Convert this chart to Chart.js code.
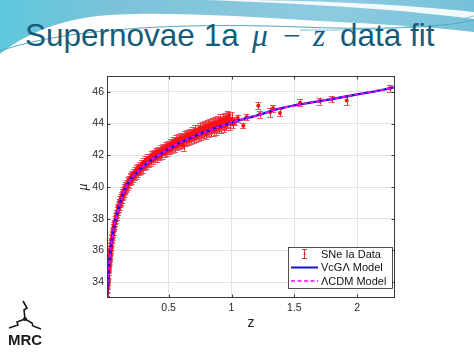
<!DOCTYPE html>
<html><head><meta charset="utf-8">
<script src="https://cdn.jsdelivr.net/npm/chart.js@4.4.1/dist/chart.umd.min.js"></script>
<style>
html,body{margin:0;padding:0;background:#fff;}
#slide{position:relative;width:474px;height:355px;overflow:hidden;background:#fff;}
#bg{position:absolute;left:0;top:0;}
.t{position:absolute;top:20px;font-size:31.5px;line-height:31.5px;color:#165c78;white-space:nowrap;}
.sans{font-family:"Liberation Sans",Arial,sans-serif;}
.ser{font-family:"Liberation Serif","DejaVu Serif",serif;font-style:italic;}
#wrap{position:absolute;left:0;top:0;width:474px;height:355px;}
#logo{position:absolute;left:8px;top:332px;font:bold 15px/15px "Liberation Sans",Arial,sans-serif;color:#1a1a1a;}
#sym{position:absolute;left:0;top:295px;}
</style></head>
<body>
<div id="slide">
<svg id="bg" width="474" height="60">
  <defs>
    <linearGradient id="g1" x1="0" y1="0" x2="1" y2="0">
      <stop offset="0" stop-color="#5ec8dd"/>
      <stop offset="0.25" stop-color="#7dc2d9"/>
      <stop offset="0.7" stop-color="#8ecbe0"/>
      <stop offset="1" stop-color="#76c1da"/>
    </linearGradient>
  </defs>
  <path d="M0,0 H474 V32 C430,27 380,24 320,21 C240,16 140,10 90,17 C45,24 18,40 0,54 Z" fill="url(#g1)"/>
  <path d="M205,0 C290,3 390,8 474,19 V12 C400,4 320,1 255,0 Z" fill="#ffffff" opacity="0.9"/>
  <path d="M0,51 C60,30 170,22 300,27 C380,30 440,28 474,20" stroke="#4fa9c2" fill="none" stroke-width="1"/>
  <path d="M300,30 C380,31 440,26 474,16" stroke="#7cc3d8" fill="none" stroke-width="1"/>
</svg>
<div class="t sans" style="left:25px">Supernovae 1a</div>
<div class="t ser" style="left:252px">μ</div>
<div class="t ser" style="left:283px;font-style:normal">−</div>
<div class="t ser" style="left:313px">z</div>
<div class="t sans" style="left:340px">data fit</div>
<div id="wrap"><canvas id="c" width="474" height="355"></canvas></div>
<svg id="sym" width="50" height="36">
  <circle cx="25" cy="24" r="2" fill="#1a1a1a"/>
  <polyline points="25,24 24,15 27,13 23,6" stroke="#1a1a1a" stroke-width="1.6" fill="none"/>
  <polyline points="25,24 17,27 18,30 9,33" stroke="#1a1a1a" stroke-width="1.6" fill="none"/>
  <polyline points="25,24 32,28 33,31 41,34" stroke="#1a1a1a" stroke-width="1.6" fill="none"/>
</svg>
<div id="logo">MRC</div>
</div>
<script>
// ---- data ----
const zData = [
0.010,0.011,0.012,0.013,0.014,0.015,0.016,0.017,0.018,0.019,0.020,0.021,0.022,0.023,0.024,0.025,0.026,0.027,0.028,0.029,
0.030,0.031,0.032,0.033,0.034,0.035,0.036,0.037,0.038,0.039,0.040,0.042,0.043,0.045,0.046,0.048,0.050,0.052,0.054,0.056,
0.058,0.060,0.062,0.064,0.066,0.068,0.070,0.072,0.075,0.078,0.080,0.083,0.086,0.089,0.092,0.095,0.098,0.100,
0.104,0.107,0.110,0.113,0.116,0.119,0.122,0.125,0.128,0.131,0.134,0.137,0.140,0.144,0.148,0.152,0.156,0.160,0.165,0.170,
0.175,0.180,0.185,0.190,0.195,0.200,0.206,0.212,0.218,0.224,0.230,0.236,0.242,0.248,0.254,0.260,0.267,0.274,0.281,0.288,
0.295,0.302,0.310,0.318,0.326,0.334,0.342,0.350,0.358,0.366,0.375,0.384,0.393,0.402,0.411,0.420,0.430,0.440,0.450,0.460,
0.470,0.480,0.490,0.500,
0.510,0.520,0.530,0.540,0.550,0.560,0.570,0.580,0.590,0.600,0.610,0.620,0.630,0.640,0.650,0.660,0.670,0.680,0.690,0.700,
0.710,0.720,0.730,0.740,0.750,0.760,0.770,0.780,0.790,0.800,0.810,0.820,0.830,0.840,0.850,0.860,0.870,0.880,0.890,0.900,
0.910,0.920,0.930,0.940,0.950,0.960,0.970,0.982,0.990,1.000,1.010,1.020,1.030,
1.050,1.093,1.120,1.213,1.226,1.306,1.330,1.385,1.545,1.700,1.797,1.916,2.260,
0.102,0.112,0.118,0.124,0.132,0.138,0.146,0.154,0.162,0.168,0.178,0.188,0.198,0.204,0.215,0.227,0.239,0.251,0.263,0.277,
0.291,0.305,0.314,0.322,0.338,0.346,0.362,0.370,0.380,0.397,0.407,0.416,0.425,0.435,0.445,0.455,0.465,0.475,0.485,0.495,
0.505,0.515,0.525,0.535,0.545,0.555,0.565,0.575,0.585,0.595,0.605,0.615,0.625,0.635,0.645,0.655,0.665,0.675,0.685,0.695,
0.705,0.715,0.725,0.735,0.745,0.755,0.765,0.775,0.785,0.795,0.805,0.815,0.825,0.835,0.845,0.855,0.865,0.875,0.885,0.895,
0.905,0.915,0.925,0.935,0.945,0.955,0.965,0.975];
const muData = [
33.15,33.35,33.50,33.55,33.80,33.75,34.05,34.00,34.25,34.30,34.45,34.40,34.65,34.60,34.85,34.80,35.05,34.95,35.15,35.30,
35.25,35.50,35.45,35.65,35.55,35.80,35.70,35.95,35.85,36.10,36.00,36.30,36.15,36.50,36.35,36.65,36.60,36.90,36.80,37.10,
37.00,37.30,37.15,37.50,37.35,37.65,37.50,37.80,37.70,38.00,37.90,38.20,38.05,38.40,38.25,38.55,38.40,38.70,
38.60,38.90,38.75,39.05,38.90,39.25,39.05,39.40,39.20,39.50,39.35,39.65,39.45,39.80,39.60,40.00,39.75,40.10,39.90,40.25,
40.00,40.40,40.15,40.50,40.30,40.65,40.40,40.80,40.55,40.90,40.65,41.05,40.75,41.15,40.85,41.25,40.95,41.35,41.05,41.45,
41.15,41.60,41.30,41.70,41.40,41.80,41.50,41.85,41.60,42.00,41.70,42.10,41.80,42.20,41.85,42.25,41.95,42.35,42.05,42.45,
42.15,42.55,42.25,42.65,
42.35,42.75,42.45,42.85,42.50,42.95,42.60,43.05,42.70,43.10,42.75,42.60,43.20,42.90,43.30,42.95,43.35,43.05,43.45,43.10,
43.55,43.15,43.60,43.25,43.70,43.30,43.75,43.40,43.80,43.35,43.90,43.50,43.95,43.55,44.00,43.60,44.05,43.65,44.10,43.75,
44.20,43.80,44.25,43.85,44.30,43.95,44.40,44.54,44.00,44.30,43.95,44.20,44.10,
44.35,43.87,44.40,45.13,44.60,44.71,44.96,44.67,45.32,45.42,45.53,45.45,46.22,
38.75,38.95,39.00,39.20,39.40,39.55,39.70,39.85,39.95,40.05,40.20,40.35,40.50,40.60,40.70,40.80,40.90,41.00,41.10,41.20,
41.30,41.40,41.45,41.55,41.60,41.70,41.75,41.85,41.90,42.00,42.05,42.10,42.10,42.20,42.20,42.30,42.30,42.40,42.40,42.45,
42.50,42.55,42.60,42.65,42.70,42.75,42.75,42.85,42.85,42.90,42.95,43.00,43.00,43.05,43.10,43.15,43.15,43.20,43.25,43.30,
43.30,43.35,43.40,43.40,43.45,43.50,43.50,43.55,43.60,43.60,43.65,43.70,43.70,43.75,43.80,43.80,43.85,43.85,43.90,43.95,
43.95,44.00,44.05,44.05,44.10,44.10,44.15,44.20];
const muErr = [
0.20,0.22,0.20,0.18,0.20,0.19,0.18,0.20,0.17,0.18,0.16,0.18,0.17,0.16,0.17,0.15,0.16,0.17,0.15,0.16,
0.15,0.16,0.15,0.16,0.15,0.15,0.16,0.15,0.14,0.15,0.15,0.14,0.15,0.14,0.15,0.14,0.15,0.14,0.15,0.14,
0.15,0.14,0.15,0.14,0.15,0.14,0.16,0.15,0.16,0.15,0.16,0.15,0.16,0.16,0.17,0.16,0.17,0.16,
0.18,0.17,0.18,0.17,0.19,0.18,0.18,0.19,0.18,0.19,0.18,0.20,0.19,0.19,0.20,0.19,0.20,0.20,0.19,0.20,
0.21,0.20,0.21,0.21,0.20,0.21,0.22,0.21,0.22,0.22,0.21,0.22,0.23,0.22,0.23,0.23,0.22,0.23,0.24,0.23,
0.24,0.24,0.23,0.25,0.24,0.25,0.24,0.25,0.26,0.25,0.25,0.26,0.25,0.26,0.26,0.27,0.26,0.27,0.26,0.27,
0.27,0.28,0.27,0.28,
0.28,0.29,0.28,0.29,0.29,0.30,0.29,0.30,0.30,0.31,0.30,0.31,0.31,0.30,0.31,0.31,0.32,0.31,0.32,0.32,
0.33,0.32,0.33,0.33,0.34,0.33,0.34,0.34,0.35,0.34,0.35,0.35,0.36,0.35,0.36,0.36,0.37,0.36,0.37,0.37,
0.38,0.37,0.38,0.38,0.39,0.38,0.39,0.20,0.39,0.40,0.25,0.22,0.20,
0.22,0.18,0.20,0.21,0.22,0.30,0.20,0.22,0.20,0.22,0.20,0.30,0.20,
0.20,0.19,0.20,0.21,0.19,0.21,0.20,0.21,0.22,0.21,0.22,0.23,0.22,0.24,0.23,0.24,0.25,0.24,0.25,0.26,
0.25,0.26,0.27,0.26,0.27,0.26,0.28,0.27,0.28,0.27,0.28,0.29,0.28,0.29,0.30,0.29,0.30,0.29,0.30,0.31,
0.30,0.31,0.30,0.31,0.32,0.31,0.32,0.31,0.32,0.33,0.32,0.33,0.32,0.33,0.34,0.33,0.34,0.33,0.34,0.35,
0.34,0.35,0.34,0.35,0.36,0.35,0.36,0.35,0.36,0.37,0.36,0.37,0.36,0.37,0.38,0.37,0.38,0.37,0.38,0.39,
0.38,0.39,0.38,0.39,0.40,0.39,0.40,0.39];

const modelZ  = [0.01,0.015,0.02,0.025,0.03,0.04,0.05,0.065,0.08,0.1,0.125,0.155,0.2,0.26,0.32,0.39,0.46,0.52,0.6,0.66,0.73,0.8,0.9,1.0,1.1,1.2,1.35,1.5,1.65,1.8,2.0,2.15,2.3];
const vcgMu   = [33.1,33.75,34.35,34.85,35.35,36.1,36.7,37.45,38.0,38.6,39.25,39.9,40.5,41.0,41.45,41.85,42.2,42.5,42.85,43.05,43.3,43.5,43.8,44.06,44.3,44.5,44.88,45.15,45.35,45.55,45.84,46.05,46.3];
const lcdmMu  = [33.1,33.75,34.35,34.85,35.35,36.1,36.7,37.45,38.0,38.6,39.25,39.9,40.5,41.0,41.45,41.85,42.2,42.5,42.85,43.05,43.3,43.5,43.8,44.06,44.3,44.5,44.88,45.15,45.35,45.55,45.84,46.05,46.3];

const xTicks = [0.5,1,1.5,2];
const xTickLabels = ['0.5','1','1.5','2'];
const yTicks = [34,36,38,40,42,44,46];
const yTickLabels = ['34','36','38','40','42','44','46'];
const legendLabels = ['SNe Ia Data','VcGΛ Model','ΛCDM Model'];
const xTitle = 'z';
const yTitle = 'μ';

// ---- rendering ----
const RED = '#ff1010';
const BLUE = '#1212d0';
const MAG = '#ff00ff';
const AX = '#3a3a3a';

const errorBars = {
  id:'errorBars',
  beforeDatasetsDraw(chart){
    const ctx = chart.ctx, xs = chart.scales.x, ys = chart.scales.y, a = chart.chartArea;
    ctx.save();
    ctx.beginPath(); ctx.rect(a.left,a.top,a.right-a.left,a.bottom-a.top); ctx.clip();
    ctx.lineWidth = 1;
    ctx.strokeStyle = 'rgba(245,20,30,0.95)';
    ctx.beginPath();
    for(let i=0;i<zData.length;i++){
      const px = Math.round(xs.getPixelForValue(zData[i]))+0.5;
      const y1 = ys.getPixelForValue(muData[i]+muErr[i]);
      const y2 = ys.getPixelForValue(muData[i]-muErr[i]);
      ctx.moveTo(px,y1); ctx.lineTo(px,y2);
    }
    ctx.stroke();
    ctx.strokeStyle = 'rgba(225,60,70,0.85)';
    ctx.beginPath();
    for(let i=0;i<zData.length;i++){
      const px = xs.getPixelForValue(zData[i]);
      const y1 = Math.round(ys.getPixelForValue(muData[i]+muErr[i]))+0.5;
      const y2 = Math.round(ys.getPixelForValue(muData[i]-muErr[i]))+0.5;
      ctx.moveTo(px-3,y1); ctx.lineTo(px+3,y1);
      ctx.moveTo(px-3,y2); ctx.lineTo(px+3,y2);
    }
    ctx.stroke();
    ctx.restore();
  }
};

const frame = {
  id:'frame',
  afterDraw(chart){
    const ctx = chart.ctx, xs = chart.scales.x, ys = chart.scales.y, a = chart.chartArea;
    ctx.save();
    ctx.strokeStyle = AX; ctx.lineWidth = 1;
    const L = Math.round(a.left)+0.5, R = Math.round(a.right)-0.5, T = Math.round(a.top)+0.5, B = Math.round(a.bottom)-0.5;
    ctx.strokeRect(L,T,R-L,B-T);
    ctx.beginPath();
    xTicks.forEach(v=>{ const p = Math.round(xs.getPixelForValue(v))+0.5; ctx.moveTo(p,B); ctx.lineTo(p,B-3); ctx.moveTo(p,T); ctx.lineTo(p,T+3); });
    yTicks.forEach(v=>{ const p = Math.round(ys.getPixelForValue(v))+0.5; ctx.moveTo(L,p); ctx.lineTo(L+3,p); ctx.moveTo(R,p); ctx.lineTo(R-3,p); });
    ctx.stroke();
    ctx.fillStyle = '#222';
    ctx.font = '14px "Liberation Sans", Arial, sans-serif';
    ctx.textAlign = 'center'; ctx.textBaseline = 'middle';
    ctx.fillText(xTitle, 251, 323);
    ctx.save();
    ctx.translate(83, 187); ctx.rotate(-Math.PI/2);
    ctx.font = 'italic 14px "Liberation Serif", serif';
    ctx.fillText(yTitle, 0, 0);
    ctx.restore();
    // legend
    const bx = 288.5, by = 247.5, bw = 104, bh = 41;
    ctx.fillStyle = '#fff'; ctx.fillRect(bx,by,bw,bh);
    ctx.strokeStyle = '#262626'; ctx.lineWidth = 0.8; ctx.strokeRect(bx,by,bw,bh);
    const rows = [254, 267.5, 281];
    ctx.lineWidth = 1; ctx.strokeStyle = 'rgba(200,40,50,0.9)';
    ctx.beginPath();
    ctx.moveTo(304.5, rows[0]-4.5); ctx.lineTo(304.5, rows[0]+4.5);
    ctx.moveTo(302, rows[0]-4.5); ctx.lineTo(307, rows[0]-4.5);
    ctx.moveTo(302, rows[0]+4.5); ctx.lineTo(307, rows[0]+4.5);
    ctx.stroke();
    ctx.fillStyle = RED; ctx.beginPath(); ctx.arc(304.5, rows[0], 1, 0, Math.PI*2); ctx.fill();
    ctx.strokeStyle = BLUE; ctx.lineWidth = 2;
    ctx.beginPath(); ctx.moveTo(291, rows[1]); ctx.lineTo(318, rows[1]); ctx.stroke();
    ctx.strokeStyle = MAG; ctx.lineWidth = 1.6; ctx.setLineDash([4,2.5]);
    ctx.beginPath(); ctx.moveTo(291, rows[2]); ctx.lineTo(318, rows[2]); ctx.stroke();
    ctx.setLineDash([]);
    ctx.fillStyle = '#111'; ctx.font = '11px "Liberation Sans", Arial, sans-serif';
    ctx.textAlign = 'left'; ctx.textBaseline = 'middle';
    legendLabels.forEach((t,i)=>ctx.fillText(t, 321, rows[i]+0.5));
    ctx.restore();
  }
};

const tickFont = {family:'"Liberation Sans", Arial, sans-serif', size:10.5};

new Chart(document.getElementById('c'), {
  type:'scatter',
  data:{
    datasets:[
      {label:legendLabels[2], data:modelZ.map((z,i)=>({x:z,y:lcdmMu[i]})), showLine:true, pointRadius:0,
       borderColor:MAG, borderWidth:1.8, borderDash:[4,2.5], fill:false, order:0, tension:0.3},
      {label:legendLabels[1], data:modelZ.map((z,i)=>({x:z,y:vcgMu[i]})), showLine:true, pointRadius:0,
       borderColor:BLUE, borderWidth:2.4, fill:false, order:1, tension:0.3},
      {label:legendLabels[0], data:zData.map((z,i)=>({x:z,y:muData[i]})), showLine:false,
       pointRadius:2, pointBackgroundColor:RED, pointBorderWidth:0, order:2}
    ]
  },
  options:{
    responsive:false, animation:false, devicePixelRatio:1,
    layout:{padding:{left:0,right:79,top:76,bottom:0}},
    plugins:{legend:{display:false}, tooltip:{enabled:false}},
    scales:{
      x:{type:'linear', min:0.01, max:2.3,
         afterBuildTicks(s){ s.ticks = xTicks.map(v=>({value:v})); },
         afterFit(s){ s.height = 57; },
         grid:{color:'#e2e2e2', drawTicks:false, lineWidth:1},
         border:{display:false},
         ticks:{padding:4, color:'#262626', font:tickFont, maxRotation:0,
                callback:(v,i)=>xTickLabels[i]}},
      y:{type:'linear', min:33, max:47,
         afterBuildTicks(s){ s.ticks = yTicks.map(v=>({value:v})); },
         afterFit(s){ s.width = 107; },
         grid:{color:'#e2e2e2', drawTicks:false, lineWidth:1},
         border:{display:false},
         ticks:{padding:3, color:'#262626', font:tickFont,
                callback:(v,i)=>yTickLabels[i]}}
    }
  },
  plugins:[errorBars, frame]
});
</script>
</body></html>
